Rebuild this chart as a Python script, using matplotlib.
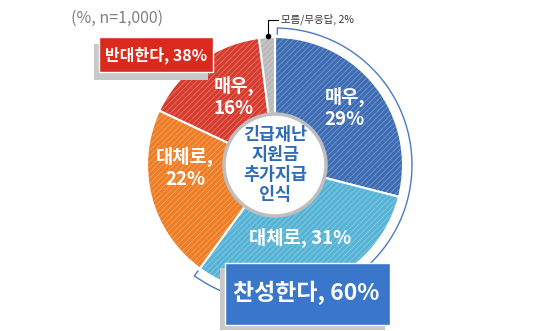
import numpy as np
import matplotlib.pyplot as plt
from matplotlib.patches import Circle, Arc, Rectangle

plt.rcParams['font.family'] = ['Noto Sans CJK KR', 'DejaVu Sans']
plt.rcParams['hatch.linewidth'] = 0.6

# data
labels = ['매우,\n29%', '대체로, 31%', '대체로,\n22%', '매우,\n16%', '']
values = [29, 31, 22, 16, 2]
colors = ['#3D6CB4', '#55B3D6', '#EE7D24', '#D63B2E', '#B9B9B9']
agree_txt = '찬성한다, 60%'
oppose_txt = '반대한다, 38%'
unknown_txt = '모름/무응답, 2%'
center_txt = '긴급재난\n지원금\n추가지급\n인식'

W, H = 550, 331
fig = plt.figure(figsize=(5.5, 3.31), dpi=100)
ax = fig.add_axes([0, 0, 1, 1])

def Y(py):
    return H - py

cx, cy, R = 275, Y(165), 128

# base wedges
wedges, _ = ax.pie(values, center=(cx, cy), radius=R, startangle=90,
                   counterclock=False, colors=colors,
                   wedgeprops=dict(edgecolor='white', linewidth=1.5))
# hatch overlay
hw, _ = ax.pie(values, center=(cx, cy), radius=R, startangle=90,
               counterclock=False, colors=['none'] * len(values),
               wedgeprops=dict(edgecolor=(1, 1, 1, 0.3), linewidth=0, hatch='//////'))

# center circle
ax.add_patch(Circle((cx, cy), 51, facecolor='white', edgecolor='#BEBEBE', lw=2.5, zorder=5))
ax.text(cx, cy, center_txt, ha='center', va='center', fontsize=12.5, fontweight='bold',
        color='#2F6CB5', linespacing=1.15, zorder=6)

# slice labels
pos = [(345, 108), (300, 238), (185, 168), (234, 97)]
for lab, (px, py) in zip(labels, pos):
    if lab:
        ax.text(px, Y(py), lab, ha='center', va='center', fontsize=13.5,
                fontweight='bold', color='white', linespacing=1.2, zorder=4)

# outer arc for agree (60%)
agree_share = sum(values[:2]) / sum(values)
r2 = 137
t1 = 90 - 360 * agree_share
ax.add_patch(Arc((cx, cy), 2 * r2, 2 * r2, theta1=t1, theta2=89, color='#4A7BC0', lw=1))
for t in (t1, 89):
    a = np.deg2rad(t)
    ax.plot([cx + r2 * np.cos(a), cx + (r2 - 6) * np.cos(a)],
            [cy + r2 * np.sin(a), cy + (r2 - 6) * np.sin(a)], color='#4A7BC0', lw=1)

# boxes
ax.add_patch(Rectangle((94, Y(80)), 114, 36, facecolor='#C8C8C8', edgecolor='none', zorder=7))
ax.add_patch(Rectangle((99, Y(72)), 114, 35, facecolor='#DA2A1D', edgecolor='white', lw=1, zorder=8))
ax.text(156, Y(55), oppose_txt, ha='center', va='center', fontsize=11.5, fontweight='bold',
        color='white', zorder=9)

ax.add_patch(Rectangle((220, Y(330)), 165, 62, facecolor='#C8C8C8', edgecolor='none', zorder=7))
ax.add_patch(Rectangle((225, Y(325)), 165, 62, facecolor='#3A77CB', edgecolor='white', lw=1, zorder=8))
ax.text(306, Y(293), agree_txt, ha='center', va='center', fontsize=16.5, fontweight='bold',
        color='white', zorder=9)

# header note
ax.text(71, Y(18), '(%, n=1,000)', ha='left', va='center', fontsize=11.5, color='#808080')

# unknown label with leader
ax.text(281, Y(19), unknown_txt, ha='left', va='center', fontsize=7.5, color='#333333')
ax.plot([278, 268, 268], [Y(20), Y(20), Y(36)], color='black', lw=0.8)
ax.plot([268], [Y(36)], 'o', color='black', ms=3)

ax.set_xlim(0, W)
ax.set_ylim(0, H)
ax.set_aspect('auto')
ax.axis('off')
fig.savefig('out.png', dpi=100)
